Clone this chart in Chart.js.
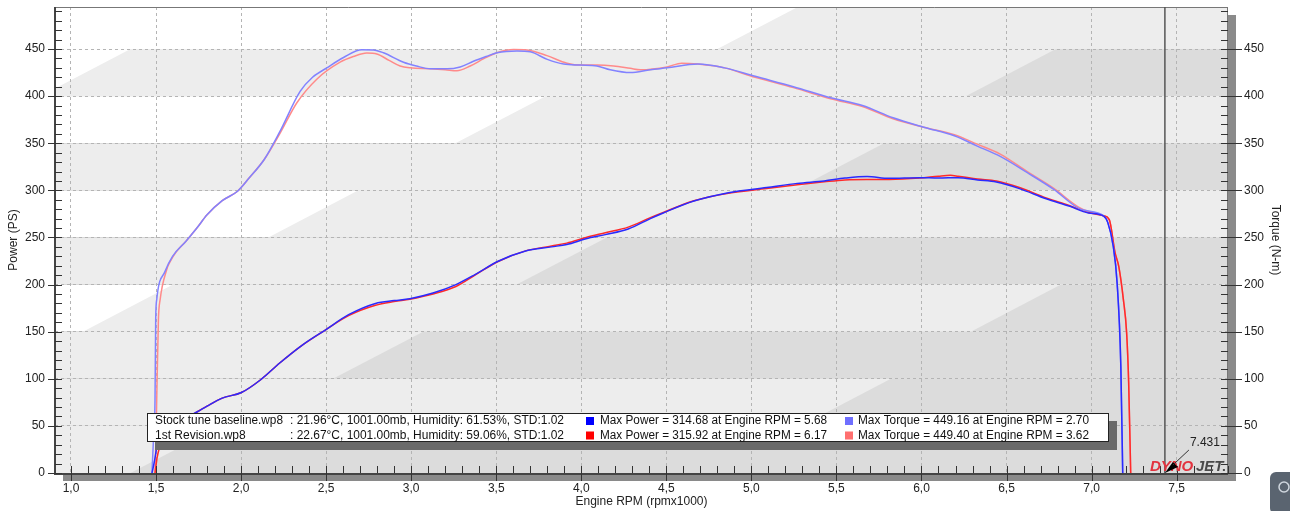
<!DOCTYPE html>
<html><head><meta charset="utf-8">
<script src="https://cdn.jsdelivr.net/npm/chart.js@4/dist/chart.umd.min.js"></script>
<style>html,body{margin:0;padding:0;background:#fff;overflow:hidden}#wrap{width:1290px;height:511px}</style>
</head><body><div id="wrap"><canvas id="c" width="1290" height="511"></canvas></div>
<script>
// ---- data (Engine RPM x1000) ----
const stockTqRpm = [1.476,1.486,1.494,1.498,1.504,1.553,1.597,1.676,1.74,1.80,1.889,1.979,2.047,2.137,2.227,2.347,2.42,2.504,2.602,2.71,2.778,2.837,2.955,3.03,3.112,3.21,3.288,3.366,3.44,3.504,3.622,3.7,3.8,3.896,3.994,4.092,4.17,4.288,4.406,4.505,4.685,4.842,5.022,5.247,5.472,5.653,5.833,6.013,6.193,6.328,6.463,6.62,6.778,6.935,7.071,7.095,7.127,7.15,7.172,7.183];
const stockTq    = [0,40,78,163,184,214,230,246,260,274,289,299,313,333,362,405,420,430,441,449.2,449,446,436,432,429,429,431,437,442,446,448,447,439,434,433,432,428,425,428,430,434,430,421,410,398,390,377,367,358,347,336,319,301,280,273,266,241,202,113,0];
const revTqRpm   = [1.494,1.500,1.504,1.514,1.524,1.563,1.582,1.62,1.676,1.74,1.80,1.889,1.979,2.047,2.137,2.227,2.328,2.445,2.582,2.66,2.739,2.798,2.87,2.935,2.994,3.112,3.20,3.269,3.347,3.43,3.504,3.602,3.68,3.798,3.916,4.0,4.092,4.19,4.288,4.347,4.505,4.59,4.685,4.842,5.022,5.247,5.472,5.653,5.833,6.013,6.193,6.328,6.463,6.62,6.778,6.935,7.071,7.104,7.138,7.16,7.187,7.206,7.218,7.23];
const revTq      = [0,40,78,163,184,216,224,235,246,260,274,289,299,313,333,360,393,418,436,442,445.7,444.7,438,432,430,429,428,427,432,440,446,449.4,449,443,435,433,433,432,429.5,428,431,435,434,430,420,409,397,389,376,367,359,349,338.5,320,302,281,273,269,234,219,184,149,96,0];
const stockPwRpm = [1.476,1.486,1.494,1.504,1.53,1.553,1.60,1.68,1.743,1.80,1.889,2.002,2.115,2.227,2.362,2.497,2.632,2.79,2.90,2.992,3.128,3.263,3.375,3.511,3.668,3.825,3.915,4.028,4.141,4.276,4.406,4.482,4.662,4.865,5.09,5.27,5.428,5.55,5.68,5.81,5.99,6.1,6.215,6.33,6.44,6.576,6.733,6.868,6.981,7.071,7.095,7.127,7.15,7.172,7.183];
const stockPw    = [0,8,16,27,40,47,52,59,65,71,79.5,85.4,99,116.7,136,152,168,180,183,185,191,200,210.6,224.8,235.4,240,242.5,248.6,253,259,270,276,288.6,297.5,302.9,307.4,310,313,314.7,312.8,313.5,313,313.5,311,308.8,301.8,291,283.3,276,272.7,266,241,202,113,0];
const revPwRpm   = [1.494,1.50,1.506,1.52,1.545,1.57,1.62,1.69,1.743,1.80,1.889,2.002,2.115,2.227,2.362,2.497,2.632,2.79,2.90,2.992,3.128,3.263,3.375,3.511,3.668,3.825,3.915,4.028,4.141,4.276,4.406,4.482,4.662,4.865,5.09,5.27,5.428,5.55,5.675,5.81,5.99,6.1,6.17,6.215,6.33,6.44,6.576,6.733,6.868,6.981,7.071,7.104,7.138,7.16,7.187,7.206,7.218,7.23];
const revPw      = [0,8,16,27,40,47,52,59,65,71,79.5,85.4,99,116.7,136,152,167,178,182,184.5,190,198,210,224.5,235.5,241,244,250,255,261,271,276.5,289,297,302,306,309,311,311.5,311.5,313,315,315.9,315,312,310,303,292,284,276.5,273,269,234,219,184,149,96,0];
const markerRpm = 7.431;

// ---- text ----
const legendFiles  = ['Stock tune baseline.wp8', '1st Revision.wp8'];
const legendConds  = [': 21.96\u00B0C, 1001.00mb, Humidity: 61.53%, STD:1.02', ': 22.67\u00B0C, 1001.00mb, Humidity: 59.06%, STD:1.02'];
const legendPower  = ['Max Power = 314.68 at Engine RPM = 5.68', 'Max Power = 315.92 at Engine RPM = 6.17'];
const legendTorque = ['Max Torque = 449.16 at Engine RPM = 2.70', 'Max Torque = 449.40 at Engine RPM = 3.62'];

const FONT = "'Liberation Sans', Arial, sans-serif";
Chart.defaults.font.family = FONT;
const pts = (xs, ys) => xs.map((x, i) => ({x, y: ys[i]}));

const W = '#ffffff', Lc = '#ededed', Dc = '#dcdcdc';
// decorative background bands: [lo, hi, leftColour, [[rpmAtBottom, colour], ...]]
const bands = [
  [450, 500, W, [[4.80, Lc]]],
  [400, 450, W, [[0.82, Lc], [6.26, Dc]]],
  [350, 400, W, [[3.26, Lc]]],
  [300, 350, Lc, [[5.25, Dc]]],
  [250, 300, W, [[2.16, Lc]]],
  [200, 250, Lc, [[3.62, Dc]]],
  [150, 200, W, [[1.07, Lc], [6.29, Dc]]],
  [100, 150, Lc, [[2.54, Dc]]],
  [50, 100, Lc, [[5.29, Dc]]],
  [0, 50, Lc, [[1.35, Dc]]]
];

const deco = {
  id: 'deco',
  beforeDraw(chart) {
    const {ctx, chartArea: a, scales: {x, y}} = chart;
    ctx.save();
    ctx.fillStyle = '#fff'; ctx.fillRect(0, 0, chart.width, chart.height);
    ctx.fillStyle = '#8a8a8a';
    ctx.fillRect(a.left + 8, a.top + 8, a.right - a.left, a.bottom - a.top);
    ctx.beginPath(); ctx.rect(a.left, a.top, a.right - a.left, a.bottom - a.top); ctx.clip();
    for (const [lo, hi, base, splits] of bands) {
      const yl = y.getPixelForValue(lo), yh = y.getPixelForValue(hi);
      ctx.fillStyle = base; ctx.fillRect(a.left, yh, a.right - a.left, yl - yh);
      for (const [xb, col] of splits) {
        const x0 = x.getPixelForValue(xb), x1 = x.getPixelForValue(xb + 0.53);
        ctx.fillStyle = col; ctx.beginPath();
        ctx.moveTo(x0, yl); ctx.lineTo(x1, yh); ctx.lineTo(a.right + 1, yh); ctx.lineTo(a.right + 1, yl); ctx.closePath(); ctx.fill();
      }
    }
    ctx.restore();
  },
  afterDraw(chart) {
    const {ctx, chartArea: a, scales: {x, y}} = chart;
    ctx.save();
    // frame
    ctx.strokeStyle = '#777'; ctx.lineWidth = 1;
    ctx.beginPath(); ctx.moveTo(a.left, a.top + 0.5); ctx.lineTo(a.right, a.top + 0.5);
    ctx.moveTo(a.right - 0.5, a.top); ctx.lineTo(a.right - 0.5, a.bottom); ctx.stroke();
    ctx.strokeStyle = '#444'; ctx.lineWidth = 2;
    ctx.beginPath(); ctx.moveTo(a.left, a.top); ctx.lineTo(a.left, a.bottom + 1);
    ctx.lineTo(a.right, a.bottom + 1); ctx.stroke();
    // ticks
    ctx.strokeStyle = '#333'; ctx.lineWidth = 1; ctx.beginPath();
    for (let v = 0; v <= 490; v += 10) {
      const py = Math.round(y.getPixelForValue(v)) + 0.5;
      const major = v % 50 === 0;
      ctx.moveTo(major ? a.left - 7 : a.left, py); ctx.lineTo(a.left + 7, py);
      ctx.moveTo(a.right - 7, py); ctx.lineTo(major ? a.right + 14 : a.right, py);
    }
    for (let k = 10; k <= 78; k++) {
      const px = Math.round(x.getPixelForValue(k / 10)) + 0.5;
      const major = k % 5 === 0;
      ctx.moveTo(px, a.bottom - 7); ctx.lineTo(px, major ? a.bottom + 8 : a.bottom);
    }
    ctx.stroke();
    // marker
    const mx = x.getPixelForValue(markerRpm);
    ctx.strokeStyle = '#555'; ctx.lineWidth = 1.5;
    ctx.beginPath(); ctx.moveTo(mx, a.top); ctx.lineTo(mx, a.bottom); ctx.stroke();
    // logo
    ctx.font = 'italic bold 15px ' + FONT; ctx.textBaseline = 'alphabetic'; ctx.textAlign = 'left';
    ctx.fillStyle = '#e2323e'; ctx.fillText('DYNO', mx - 15, a.bottom - 2, 45);
    ctx.fillStyle = '#4a4a4a'; ctx.fillText('JET', mx + 31, a.bottom - 2, 30);
    ctx.fillRect(mx + 58, a.bottom - 4, 2, 2);
    ctx.fillStyle = '#000'; ctx.beginPath();
    ctx.moveTo(mx, a.bottom); ctx.lineTo(mx + 8, a.bottom - 11); ctx.lineTo(mx + 13, a.bottom - 6); ctx.closePath(); ctx.fill();
    ctx.strokeStyle = '#333'; ctx.lineWidth = 1;
    ctx.beginPath(); ctx.moveTo(mx + 8, a.bottom - 8); ctx.lineTo(mx + 24, a.bottom - 23); ctx.stroke();
    ctx.font = '12px ' + FONT; ctx.fillStyle = '#222'; ctx.textBaseline = 'middle';
    ctx.fillText(markerRpm.toFixed(3), mx + 25, a.bottom - 30);
    // legend
    const L = 147, T = 413, R = 1109, B = 442;
    ctx.fillStyle = '#6a6a6a'; ctx.fillRect(L + 8, T + 8, R - L, B - T);
    ctx.fillStyle = '#fff'; ctx.fillRect(L, T, R - L, B - T);
    ctx.strokeStyle = '#222'; ctx.strokeRect(L + 0.5, T + 0.5, R - L - 1, B - T - 1);
    const sq = [['#0000ff', '#6f6fff'], ['#ff0000', '#ff6f6f']];
    ctx.font = '12px ' + FONT; ctx.fillStyle = '#111';
    for (let r = 0; r < 2; r++) {
      const cy = 421 + r * 14.5;
      ctx.fillStyle = '#111';
      ctx.fillText(legendFiles[r], 155, cy, 128);
      ctx.fillText(legendConds[r], 290, cy, 274);
      ctx.fillText(legendPower[r], 600, cy, 227);
      ctx.fillText(legendTorque[r], 858, cy, 231);
      ctx.fillStyle = sq[r][0]; ctx.fillRect(586, cy - 4, 8, 8);
      ctx.fillStyle = sq[r][1]; ctx.fillRect(845, cy - 4, 8, 8);
    }
    // corner widget
    ctx.fillStyle = '#5a6470'; ctx.beginPath(); ctx.roundRect(1270, 472, 28, 42, 6); ctx.fill();
    ctx.strokeStyle = '#cfd6de'; ctx.lineWidth = 1.5; ctx.beginPath(); ctx.arc(1284, 487, 5, 0, Math.PI * 2); ctx.stroke();
    ctx.restore();
  }
};

const zeroPad = s => { s.paddingTop = 0; s.paddingBottom = 0; s.paddingLeft = 0; s.paddingRight = 0; };
const yTicks = (pos, pad) => ({
  position: pos, min: 0, max: 494.6,
  ticks: {stepSize: 50, includeBounds: false, padding: pad, color: '#222', font: {size: 12}, maxTicksLimit: 100},
  border: {display: false, dash: [3, 3]},
  title: {display: true, color: '#222', font: {size: 12}}
});
const yL = yTicks('left', 10);
yL.grid = {color: '#b4b4b4', drawTicks: false, lineWidth: 1};
yL.title.text = 'Power (PS)'; yL.title.padding = {top: 6, bottom: 0};
yL.afterFit = s => { s.width = 55; zeroPad(s); };
const yR = yTicks('right', 16);
yR.grid = {display: false, drawTicks: false};
yR.title.text = 'Torque (N-m)'; yR.title.padding = {top: 7, bottom: 0};
yR.afterFit = s => { s.width = 62; zeroPad(s); };

new Chart(document.getElementById('c'), {
  type: 'line',
  data: {datasets: [
    {label: 'Stock Power', data: pts(stockPwRpm, stockPw), borderColor: '#2a2aff', borderWidth: 1.5, yAxisID: 'y'},
    {label: 'Stock Torque', data: pts(stockTqRpm, stockTq), borderColor: '#8282ff', borderWidth: 1.5, yAxisID: 'y2'},
    {label: 'Rev Power', data: pts(revPwRpm, revPw), borderColor: '#ff2a2a', borderWidth: 1.5, yAxisID: 'y'},
    {label: 'Rev Torque', data: pts(revTqRpm, revTq), borderColor: '#ff8a8a', borderWidth: 1.5, yAxisID: 'y2'}
  ]},
  options: {
    responsive: false, devicePixelRatio: 1, animation: false,
    layout: {padding: {top: 7, left: 0, right: 0, bottom: 0}},
    elements: {point: {radius: 0}, line: {tension: 0, cubicInterpolationMode: 'monotone'}},
    plugins: {legend: {display: false}, tooltip: {enabled: false}},
    scales: {
      x: {type: 'linear', min: 0.906, max: 7.802,
        ticks: {stepSize: 0.5, includeBounds: false, autoSkip: false, maxRotation: 0, padding: 8, color: '#222', font: {size: 12},
          callback: v => v.toFixed(1).replace('.', ',')},
        grid: {color: '#b4b4b4', drawTicks: false},
        border: {display: false, dash: [3, 3]},
        title: {display: true, text: 'Engine RPM (rpmx1000)', color: '#222', font: {size: 12}, padding: {top: 0, bottom: 2}},
        afterFit: s => { s.height = 38; zeroPad(s); }},
      y: yL, y2: yR
    }
  },
  plugins: [deco]
});
</script></body></html>
